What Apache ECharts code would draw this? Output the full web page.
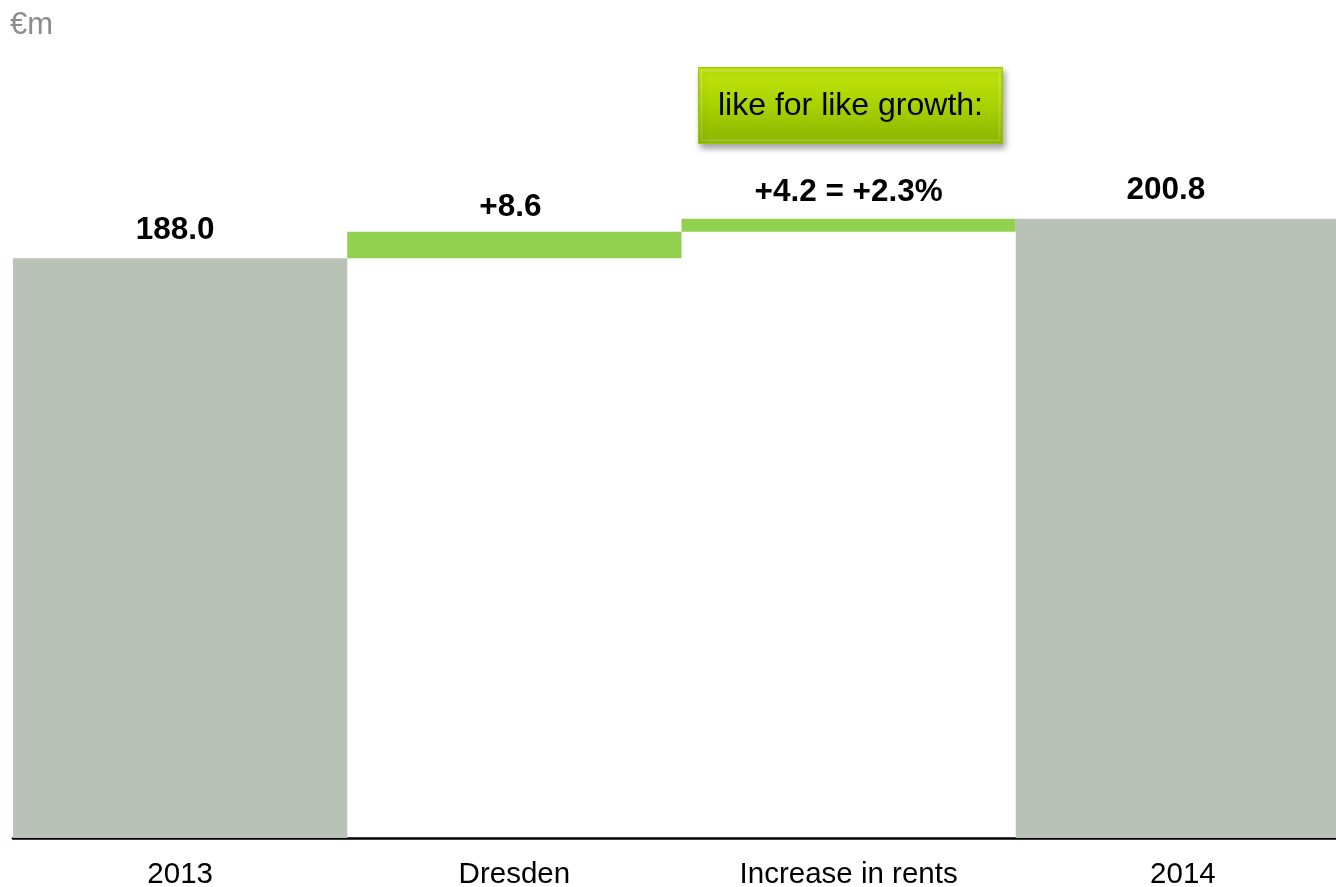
<!DOCTYPE html>
<html>
<head>
<meta charset="utf-8">
<script src="https://cdn.jsdelivr.net/npm/echarts@6/dist/echarts.min.js"></script>
<style>
html,body{margin:0;padding:0;background:#fff;}
#chart{width:1336px;height:887px;}
</style>
</head>
<body>
<div id="chart"></div>
<script>
// ---- data ----
var categories = ['2013', 'Dresden', 'Increase in rents', '2014'];
var deltas = [188.0, 8.6, 4.2, 200.8];
var isTotal = [true, false, false, true];
var valueLabels = ['188.0', '+8.6', '+4.2 = +2.3%', '200.8'];
var unitLabel = '€m';
var calloutText = 'like for like growth:';

// running base for waterfall
var base = [];
var running = 0;
for (var i = 0; i < deltas.length; i++) {
  if (isTotal[i]) { base.push(0); running = deltas[i]; }
  else { base.push(running); running += deltas[i]; }
}

var GRAY = '#b9c2b6';
var GREEN = '#92d050';
var labelOffsets = [[-5, 0], [-4, 4], [0, 2], [-17, 0]];

var chart = echarts.init(document.getElementById('chart'), null, {renderer: 'canvas'});
var option = {
  animation: false,
  backgroundColor: '#ffffff',
  grid: {left: 13, width: 1337, top: 67, bottom: 49, containLabel: false, outerBoundsMode: 'none'},
  xAxis: {
    type: 'category',
    data: categories,
    axisLine: {show: true, lineStyle: {color: '#000000', width: 2.5}},
    axisTick: {show: false},
    axisLabel: {
      color: '#000000',
      fontFamily: 'Liberation Sans, Arial, sans-serif',
      fontSize: 29.5,
      margin: 22
    },
    splitLine: {show: false}
  },
  yAxis: {
    type: 'value',
    min: 0,
    max: 250,
    show: false
  },
  series: [
    {
      type: 'bar',
      stack: 'wf',
      data: base,
      itemStyle: {color: 'rgba(0,0,0,0)'},
      barWidth: '100%',
      barCategoryGap: 0,
      silent: true
    },
    {
      type: 'bar',
      stack: 'wf',
      barWidth: '100%',
      barCategoryGap: 0,
      data: deltas.map(function (v, i) {
        return {
          value: v,
          itemStyle: {color: isTotal[i] ? GRAY : GREEN},
          label: {offset: labelOffsets[i]}
        };
      }),
      label: {
        show: true,
        position: 'top',
        distance: 12,
        color: '#000000',
        fontFamily: 'Liberation Sans, Arial, sans-serif',
        fontWeight: 'bold',
        fontSize: 31.5,
        formatter: function (p) { return valueLabels[p.dataIndex]; }
      }
    }
  ],
  graphic: [
    {
      type: 'text',
      left: 10,
      top: 10,
      style: {
        text: unitLabel,
        fill: '#8c8c8c',
        font: '31px "Liberation Sans", Arial, sans-serif'
      }
    },
    {
      type: 'group',
      left: 698,
      top: 67,
      children: [
        {
          type: 'rect',
          shape: {x: 0, y: 0, width: 304, height: 76},
          style: {
            fill: new echarts.graphic.LinearGradient(0, 0, 0, 1, [
              {offset: 0, color: '#c4e60e'},
              {offset: 0.5, color: '#a8d200'},
              {offset: 1, color: '#8ab400'}
            ]),
            stroke: '#9cc400',
            lineWidth: 1,
            shadowBlur: 6,
            shadowOffsetX: 2,
            shadowOffsetY: 4,
            shadowColor: 'rgba(0,0,0,0.35)'
          }
        },
        {
          type: 'rect',
          shape: {x: 3, y: 3, width: 298, height: 70},
          style: {
            fill: 'none',
            stroke: 'rgba(255,255,255,0.18)',
            lineWidth: 2
          }
        },
        {
          type: 'text',
          x: 152,
          y: 39,
          style: {
            text: calloutText,
            fill: '#000000',
            font: '32px "Liberation Sans", Arial, sans-serif',
            align: 'center',
            verticalAlign: 'middle'
          }
        }
      ]
    }
  ]
};
chart.setOption(option);
</script>
</body>
</html>
